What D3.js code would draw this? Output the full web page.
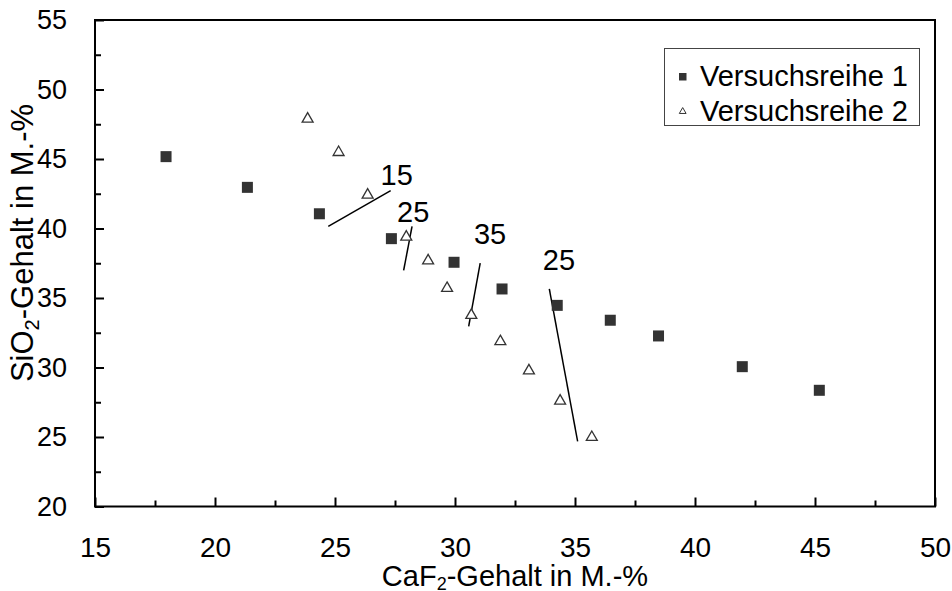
<!DOCTYPE html>
<html>
<head>
<meta charset="utf-8">
<script src="https://cdn.jsdelivr.net/npm/d3@7"></script>
<style>
  html, body { margin: 0; padding: 0; background: #fff; }
  svg { display: block; font-family: "Liberation Sans", Arial, sans-serif; }
</style>
</head>
<body>
<svg id="chart" width="952" height="591"></svg>
<script>
// Versuchsreihe 1: CaF2 content vs. SiO2 content (M.-%)
const reihe1CaF2 = [17.96, 21.35, 24.35, 27.35, 29.96, 31.96, 34.26, 36.47, 38.48, 41.97, 45.18];
const reihe1SiO2 = [45.17, 42.96, 41.06, 39.27, 37.57, 35.65, 34.47, 33.40, 32.27, 30.06, 28.36];

// Versuchsreihe 2
const reihe2CaF2 = [23.86, 25.15, 26.36, 27.97, 28.88, 29.67, 30.68, 31.89, 33.08, 34.38, 35.70];
const reihe2SiO2 = [47.88, 45.48, 42.41, 39.39, 37.68, 35.70, 33.76, 31.87, 29.77, 27.59, 24.98];

// Guide lines (start and end in data units) with their labels
const guideX1 = [24.72, 28.21, 31.05, 33.93];
const guideY1 = [40.15, 40.15, 37.51, 35.65];
const guideX2 = [27.32, 27.86, 30.57, 35.11];
const guideY2 = [42.73, 36.98, 32.96, 24.69];
const guideLabels = ["15", "25", "35", "25"];
const guideLabelX = [27.57, 28.26, 31.46, 34.33];
const guideLabelY = [43.86, 41.22, 39.67, 37.75];

// Axis ticks
const xMajorTicks = [15, 20, 25, 30, 35, 40, 45, 50];
const xMinorTicks = [17.5, 22.5, 27.5, 32.5, 37.5, 42.5, 47.5];
const yMajorTicks = [20, 25, 30, 35, 40, 45, 50, 55];
const yMinorTicks = [22.5, 27.5, 32.5, 37.5, 42.5, 47.5, 52.5];

const seriesNames = ["Versuchsreihe 1", "Versuchsreihe 2"];

const svg = d3.select("#chart");
const plotLeft = 95, plotRight = 935, plotTop = 20, plotBottom = 506.5;

const x = d3.scaleLinear().domain([15, 50]).range([plotLeft, plotRight]);
const y = d3.scaleLinear().domain([20, 55]).range([plotBottom, plotTop]);

const ink = "#000";
const markerFill = "#333";
const fontStack = "'Liberation Sans', Arial, sans-serif";

// Minor ticks (inward, unlabeled)
svg.append("g")
  .attr("transform", `translate(0,${plotBottom})`)
  .call(d3.axisBottom(x).tickValues(xMinorTicks).tickSize(-6).tickFormat(""))
  .call(g => g.select(".domain").remove())
  .call(g => g.selectAll("line").attr("stroke", ink).attr("stroke-width", 2));
svg.append("g")
  .attr("transform", `translate(${plotLeft},0)`)
  .call(d3.axisLeft(y).tickValues(yMinorTicks).tickSize(-6).tickFormat(""))
  .call(g => g.select(".domain").remove())
  .call(g => g.selectAll("line").attr("stroke", ink).attr("stroke-width", 2));

// Major ticks with labels
svg.append("g")
  .attr("transform", `translate(0,${plotBottom})`)
  .call(d3.axisBottom(x).tickValues(xMajorTicks).tickSize(-9).tickPadding(31).tickFormat(d3.format("d")))
  .call(g => g.select(".domain").remove())
  .call(g => g.selectAll("line").attr("stroke", ink).attr("stroke-width", 2))
  .call(g => g.selectAll("text").attr("fill", ink).attr("font-size", 28).attr("font-family", fontStack));
svg.append("g")
  .attr("transform", `translate(${plotLeft},0)`)
  .call(d3.axisLeft(y).tickValues(yMajorTicks).tickSize(-9).tickPadding(28).tickFormat(d3.format("d")))
  .call(g => g.select(".domain").remove())
  .call(g => g.selectAll("line").attr("stroke", ink).attr("stroke-width", 2))
  .call(g => g.selectAll("text").attr("fill", ink).attr("font-size", 27).attr("font-family", fontStack));

// Plot frame
svg.append("rect")
  .attr("x", plotLeft).attr("y", plotTop)
  .attr("width", plotRight - plotLeft).attr("height", plotBottom - plotTop)
  .attr("fill", "none").attr("stroke", ink).attr("stroke-width", 2);

// Axis titles with subscripts
const xTitle = svg.append("text")
  .attr("x", (plotLeft + plotRight) / 2).attr("y", 585.5)
  .attr("text-anchor", "middle").attr("font-size", 29).attr("fill", ink);
xTitle.append("tspan").text("CaF");
xTitle.append("tspan").attr("font-size", 18).attr("dy", 4).text("2");
xTitle.append("tspan").attr("dy", -4).text("-Gehalt in M.-%");

const yTitle = svg.append("text")
  .attr("transform", `translate(33,243) rotate(-90)`)
  .attr("text-anchor", "middle").attr("font-size", 31).attr("fill", ink);
yTitle.append("tspan").text("SiO");
yTitle.append("tspan").attr("font-size", 20).attr("dy", 6).text("2");
yTitle.append("tspan").attr("dy", -6).text("-Gehalt in M.-%");

// Guide lines and labels
const guides = guideLabels.map((label, i) => ({
  x1: guideX1[i], y1: guideY1[i], x2: guideX2[i], y2: guideY2[i],
  label, lx: guideLabelX[i], ly: guideLabelY[i]
}));
svg.append("g").selectAll("line").data(guides).join("line")
  .attr("x1", d => x(d.x1)).attr("y1", d => y(d.y1))
  .attr("x2", d => x(d.x2)).attr("y2", d => y(d.y2))
  .attr("stroke", ink).attr("stroke-width", 1.5);
svg.append("g").selectAll("text").data(guides).join("text")
  .attr("x", d => x(d.lx)).attr("y", d => y(d.ly))
  .attr("text-anchor", "middle").attr("dy", "0.36em")
  .attr("font-size", 29).attr("fill", ink)
  .text(d => d.label);

// Series 1: filled squares
const sq = 11;
svg.append("g").selectAll("rect").data(d3.zip(reihe1CaF2, reihe1SiO2)).join("rect")
  .attr("x", d => x(d[0]) - sq / 2).attr("y", d => y(d[1]) - sq / 2)
  .attr("width", sq).attr("height", sq)
  .attr("fill", markerFill);

// Series 2: open triangles
const tri = d3.symbol(d3.symbolTriangle, 52);
svg.append("g").selectAll("path").data(d3.zip(reihe2CaF2, reihe2SiO2)).join("path")
  .attr("transform", d => `translate(${x(d[0])},${y(d[1])})`)
  .attr("d", tri)
  .attr("fill", "#fff").attr("stroke", markerFill).attr("stroke-width", 1.3);

// Legend
const legend = svg.append("g");
legend.append("rect")
  .attr("x", 664.5).attr("y", 48.5).attr("width", 255).attr("height", 77)
  .attr("fill", "#fff").attr("stroke", "#444").attr("stroke-width", 1);
const legendRows = [85.5, 121];
legend.append("rect")
  .attr("x", 679).attr("y", legendRows[0] - 12.5).attr("width", 7.5).attr("height", 7.5)
  .attr("fill", markerFill);
legend.append("path")
  .attr("transform", `translate(682.7,${legendRows[1] - 9.5})`)
  .attr("d", d3.symbol(d3.symbolTriangle, 20))
  .attr("fill", "#fff").attr("stroke", markerFill).attr("stroke-width", 1);
legend.selectAll("text.lbl").data(seriesNames).join("text")
  .attr("class", "lbl")
  .attr("x", 700).attr("y", (d, i) => legendRows[i])
  .attr("font-size", 29).attr("fill", ink)
  .text(d => d);
</script>
</body>
</html>
